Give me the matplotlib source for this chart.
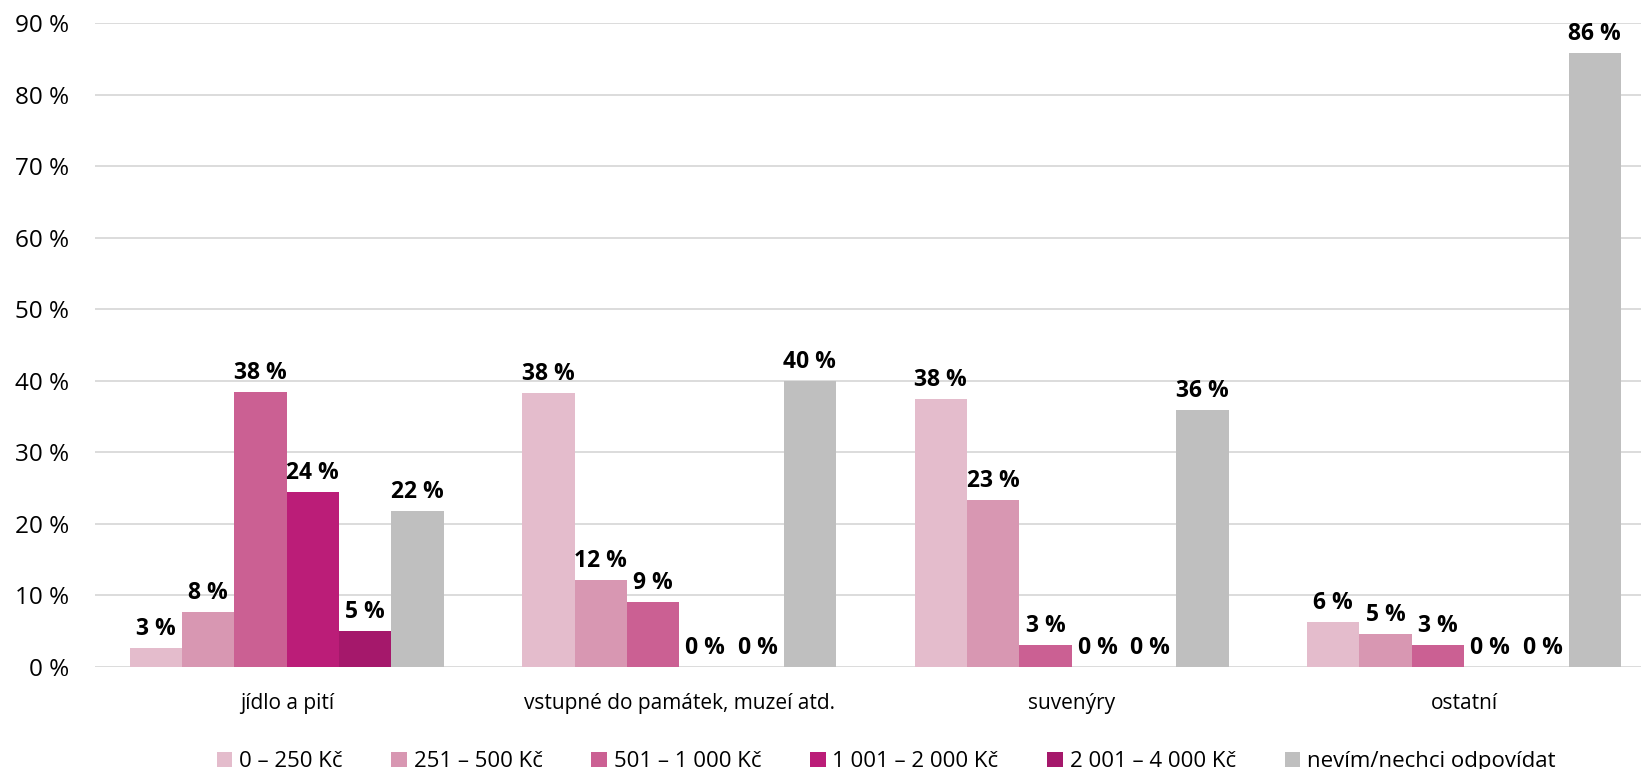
import matplotlib
matplotlib.use("Agg")
import matplotlib.pyplot as plt
import numpy as np

plt.rcParams['font.family'] = ['Open Sans', 'DejaVu Sans']

categories = ["jídlo a pití", "vstupné do památek, muzeí atd.", "suvenýry", "ostatní"]
series_names = ["0 – 250 Kč", "251 – 500 Kč", "501 – 1 000 Kč", "1 001 – 2 000 Kč",
                "2 001 – 4 000 Kč", "nevím/nechci odpovídat"]
s_0_250 = [2.6, 38.3, 37.5, 6.2]
s_251_500 = [7.6, 12.1, 23.3, 4.6]
s_501_1000 = [38.4, 9.1, 3.0, 3.1]
s_1001_2000 = [24.4, 0, 0, 0]
s_2001_4000 = [5.0, 0, 0, 0]
s_nevim = [21.8, 39.9, 35.9, 85.8]
series = [s_0_250, s_251_500, s_501_1000, s_1001_2000, s_2001_4000, s_nevim]
colors = ["#E4BCCC", "#D897B2", "#CB6093", "#BB1D78", "#A5186B", "#BFBFBF"]
yticks = [0, 10, 20, 30, 40, 50, 60, 70, 80, 90]

fig = plt.figure(figsize=(16.41, 7.69), dpi=100)
ax = fig.add_axes([0.058, 0.133, 0.942, 0.837])

x = np.arange(len(categories))
w = 0.1333
n = len(series)
for i, (vals, col, name) in enumerate(zip(series, colors, series_names)):
    pos = x + (i - (n - 1) / 2) * w
    ax.bar(pos, vals, width=w, color=col, label=name, zorder=3)
    for p, v in zip(pos, vals):
        ax.annotate(f"{round(v):d} %", (p, v), xytext=(0, 5), textcoords="offset points",
                    ha="center", va="bottom", fontsize=16.5, fontweight="bold", color="black",
                    zorder=4)

ax.set_ylim(0, 90)
ax.set_xlim(-0.488, 3.451)
ax.set_yticks(yticks)
ax.set_yticklabels([f"{t} %" for t in yticks], fontsize=17.5)
ax.set_xticks(x)
ax.set_xticklabels(categories, fontsize=15)
ax.tick_params(axis='both', length=0, colors="black")
ax.tick_params(axis='y', pad=19)
ax.tick_params(axis='x', pad=19)
ax.grid(axis='y', color="#D9D9D9", linewidth=1.3, zorder=0)
for s in ax.spines.values():
    s.set_visible(False)

handles, labels = ax.get_legend_handles_labels()
leg = fig.legend(handles, labels, loc="lower center", bbox_to_anchor=(0.54, -0.03), ncol=6,
                 frameon=False, fontsize=16, handlelength=0.7, handleheight=0.7,
                 handletextpad=0.3, columnspacing=2.2)

fig.savefig("out.png", dpi=100)
